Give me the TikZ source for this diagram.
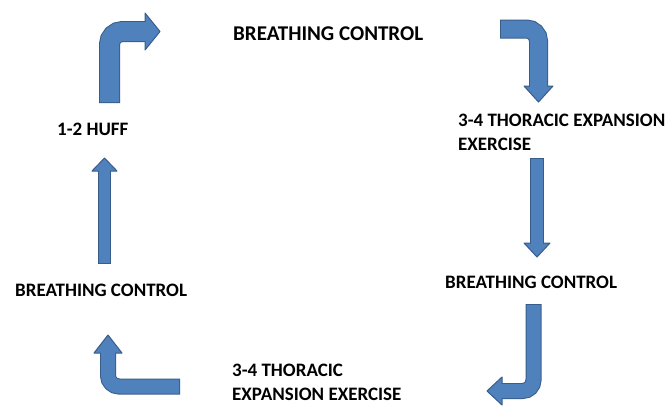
\documentclass[tikz,border=0pt]{standalone}
\usepackage{fontspec}
\setmainfont{Carlito}
\definecolor{arrfill}{HTML}{4F81BD}
\definecolor{arrline}{HTML}{385D8A}
\tikzset{
  lbl/.style={anchor=base west, inner sep=0pt, font=\bfseries\fontsize{19}{23}\selectfont, text=black},
  lblbig/.style={lbl, font=\bfseries\fontsize{21}{25}\selectfont},
  headshape/.style={fill=arrfill, draw=arrline, line width=1pt, line join=round},
}
\newcommand\blockarrow[5]{%
  % #1 width, #2 radius, #3 shaft path (outline), #4 shaft path (fill), #5 head
  \draw[line width=#1pt+2pt, arrline, rounded corners=#2pt] #3;
  \filldraw[headshape] #5;
  \draw[line width=#1pt, arrfill, rounded corners=#2pt] #4;
}
\begin{document}
\begin{tikzpicture}[x=1pt,y=-1pt]
\useasboundingbox (0,0) rectangle (669,408);
\fill[white] (0,0) rectangle (669,408);

% texts
\node[lblbig] (bc1) at (233,40) {BREATHING CONTROL};
\node[lbl] (te1a) at (458,126) {3-4 THORACIC EXPANSION};
\node[lbl] (te1b) at (458,150) {EXERCISE};
\node[lbl] (bc2) at (445,288) {BREATHING CONTROL};
\node[lbl] (te2a) at (232,376) {3-4 THORACIC};
\node[lbl] (te2b) at (232,400) {EXPANSION EXERCISE};
\node[lbl] (bc3) at (15,296) {BREATHING CONTROL};
\node[lbl] (huff) at (57,135) {1-2 HUFF};

% arrow 1: up then right
\blockarrow{19}{13}{(109.5,103) -- (109.5,31.5) -- (146,31.5)}{(109.5,102) -- (109.5,31.5) -- (146,31.5)}{(145,13) -- (160,31.5) -- (145,50) -- cycle}
% arrow 2: right then down
\blockarrow{17}{12}{(500,29) -- (538.5,29) -- (538.5,87)}{(501,29) -- (538.5,29) -- (538.5,87)}{(524,86) -- (538.5,102) -- (553,86) -- cycle}
% arrow 3: straight down (right side)
\blockarrow{12}{1}{(537,158) -- (537,244)}{(537,159) -- (537,244)}{(524,243) -- (537,257) -- (550,243) -- cycle}
% arrow 4: down then left
\blockarrow{14}{11}{(533.5,304) -- (533.5,391) -- (501,391)}{(533.5,305) -- (533.5,391) -- (501,391)}{(502,377) -- (487,391) -- (502,405) -- cycle}
% arrow 5: left then up
\blockarrow{14}{11}{(180,386.5) -- (108,386.5) -- (108,352)}{(179,386.5) -- (108,386.5) -- (108,352)}{(94,353) -- (108,335) -- (122,353) -- cycle}
% arrow 6: straight up (left side)
\blockarrow{11}{1}{(104.5,264) -- (104.5,170)}{(104.5,263) -- (104.5,170)}{(92,171) -- (104.5,158) -- (117,171) -- cycle}
\end{tikzpicture}
\end{document}
